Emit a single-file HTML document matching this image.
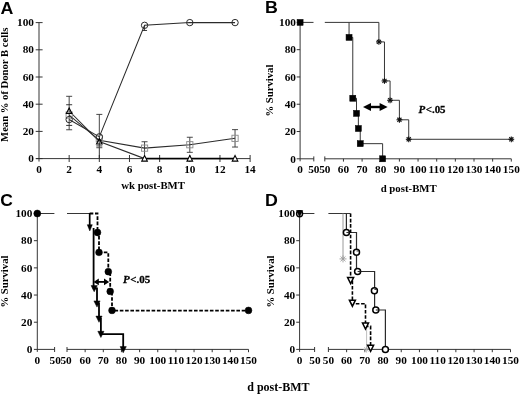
<!DOCTYPE html>
<html lang="en"><head><meta charset="utf-8"><title>Figure</title>
<style>html,body{margin:0;padding:0;background:#fff;}svg{display:block;opacity:0.999;will-change:transform;}.t{font-family:"Liberation Serif","DejaVu Serif",serif;font-weight:bold;fill:#000;}.p{font-family:"Liberation Sans","DejaVu Sans",sans-serif;font-weight:bold;fill:#000;}</style></head><body>
<svg width="520" height="394" viewBox="0 0 520 394">
<rect width="520" height="394" fill="#fff"/>
<text class="p" transform="translate(0.40 13.70) scale(1.06 1)" font-size="16.8" text-anchor="start">A</text>
<text class="p" transform="translate(265.00 13.40) scale(1.06 1)" font-size="16.8" text-anchor="start">B</text>
<text class="p" transform="translate(0.20 206.40) scale(1.04 1)" font-size="16.8" text-anchor="start">C</text>
<text class="p" transform="translate(265.00 206.40) scale(1.06 1)" font-size="16.8" text-anchor="start">D</text>
<line x1="39.00" y1="22.60" x2="39.00" y2="161.60" stroke="#2b2b2b" stroke-width="0.95" />
<line x1="36.00" y1="158.60" x2="250.12" y2="158.60" stroke="#2b2b2b" stroke-width="0.95" />
<line x1="35.70" y1="158.60" x2="42.60" y2="158.60" stroke="#2b2b2b" stroke-width="0.95" />
<text class="t" transform="translate(34.00 162.20) scale(1.13 1)" font-size="10" text-anchor="end">0</text>
<line x1="35.70" y1="131.40" x2="42.60" y2="131.40" stroke="#2b2b2b" stroke-width="0.95" />
<text class="t" transform="translate(34.00 135.00) scale(1.13 1)" font-size="10" text-anchor="end">20</text>
<line x1="35.70" y1="104.20" x2="42.60" y2="104.20" stroke="#2b2b2b" stroke-width="0.95" />
<text class="t" transform="translate(34.00 107.80) scale(1.13 1)" font-size="10" text-anchor="end">40</text>
<line x1="35.70" y1="77.00" x2="42.60" y2="77.00" stroke="#2b2b2b" stroke-width="0.95" />
<text class="t" transform="translate(34.00 80.60) scale(1.13 1)" font-size="10" text-anchor="end">60</text>
<line x1="35.70" y1="49.80" x2="42.60" y2="49.80" stroke="#2b2b2b" stroke-width="0.95" />
<text class="t" transform="translate(34.00 53.40) scale(1.13 1)" font-size="10" text-anchor="end">80</text>
<line x1="35.70" y1="22.60" x2="42.60" y2="22.60" stroke="#2b2b2b" stroke-width="0.95" />
<text class="t" transform="translate(34.00 26.20) scale(1.13 1)" font-size="10" text-anchor="end">100</text>
<text class="t" transform="translate(39.00 173.00) scale(1.13 1)" font-size="10" text-anchor="middle">0</text>
<line x1="69.16" y1="155.00" x2="69.16" y2="162.00" stroke="#2b2b2b" stroke-width="0.95" />
<text class="t" transform="translate(69.16 173.00) scale(1.13 1)" font-size="10" text-anchor="middle">2</text>
<line x1="99.32" y1="155.00" x2="99.32" y2="162.00" stroke="#2b2b2b" stroke-width="0.95" />
<text class="t" transform="translate(99.32 173.00) scale(1.13 1)" font-size="10" text-anchor="middle">4</text>
<line x1="129.48" y1="155.00" x2="129.48" y2="162.00" stroke="#2b2b2b" stroke-width="0.95" />
<text class="t" transform="translate(129.48 173.00) scale(1.13 1)" font-size="10" text-anchor="middle">6</text>
<line x1="159.64" y1="155.00" x2="159.64" y2="162.00" stroke="#2b2b2b" stroke-width="0.95" />
<text class="t" transform="translate(159.64 173.00) scale(1.13 1)" font-size="10" text-anchor="middle">8</text>
<line x1="189.80" y1="155.00" x2="189.80" y2="162.00" stroke="#2b2b2b" stroke-width="0.95" />
<text class="t" transform="translate(189.80 173.00) scale(1.13 1)" font-size="10" text-anchor="middle">10</text>
<line x1="219.96" y1="155.00" x2="219.96" y2="162.00" stroke="#2b2b2b" stroke-width="0.95" />
<text class="t" transform="translate(219.96 173.00) scale(1.13 1)" font-size="10" text-anchor="middle">12</text>
<line x1="250.12" y1="155.00" x2="250.12" y2="162.00" stroke="#2b2b2b" stroke-width="0.95" />
<text class="t" transform="translate(250.12 173.00) scale(1.13 1)" font-size="10" text-anchor="middle">14</text>
<text class="t" transform="translate(153.10 189.20) scale(1.025 1)" font-size="10.5" text-anchor="middle">wk post-BMT</text>
<text class="t" transform="translate(8.10 84.80) rotate(-90) scale(1.015 1)" font-size="10.5" text-anchor="middle">Mean % of Donor B cells</text>
<polyline points="69.16,119.57 99.32,136.84 144.56,25.32 189.80,22.60 235.04,22.60" fill="none" stroke="#2b2b2b" stroke-width="1.05" />
<polyline points="69.16,115.08 99.32,140.38 144.56,148.13 189.80,144.73 235.04,138.34" fill="none" stroke="#2b2b2b" stroke-width="1.05" />
<polyline points="69.16,111.00 99.32,141.46 144.56,158.60 189.80,158.60 235.04,158.60" fill="none" stroke="#2b2b2b" stroke-width="1.05" />
<line x1="144.56" y1="158.40" x2="235.04" y2="158.40" stroke="#000" stroke-width="1.5" />
<line x1="69.16" y1="96.31" x2="69.16" y2="129.77" stroke="#333" stroke-width="0.9" />
<line x1="66.16" y1="96.31" x2="72.16" y2="96.31" stroke="#333" stroke-width="0.9" />
<line x1="66.16" y1="129.77" x2="72.16" y2="129.77" stroke="#333" stroke-width="0.9" />
<line x1="66.16" y1="125.42" x2="72.16" y2="125.42" stroke="#2b2b2b" stroke-width="0.95" />
<line x1="66.16" y1="104.74" x2="72.16" y2="104.74" stroke="#2b2b2b" stroke-width="0.95" />
<line x1="99.32" y1="114.40" x2="99.32" y2="147.72" stroke="#333" stroke-width="0.9" />
<line x1="96.32" y1="114.40" x2="102.32" y2="114.40" stroke="#333" stroke-width="0.9" />
<line x1="96.32" y1="147.72" x2="102.32" y2="147.72" stroke="#333" stroke-width="0.9" />
<line x1="99.32" y1="147.72" x2="99.32" y2="158.60" stroke="#2b2b2b" stroke-width="0.95" />
<line x1="96.32" y1="145.95" x2="102.32" y2="145.95" stroke="#2b2b2b" stroke-width="0.95" />
<line x1="144.56" y1="141.74" x2="144.56" y2="154.79" stroke="#333" stroke-width="0.9" />
<line x1="141.56" y1="141.74" x2="147.56" y2="141.74" stroke="#333" stroke-width="0.9" />
<line x1="189.80" y1="137.25" x2="189.80" y2="152.34" stroke="#333" stroke-width="0.9" />
<line x1="186.80" y1="137.25" x2="192.80" y2="137.25" stroke="#333" stroke-width="0.9" />
<line x1="186.80" y1="152.34" x2="192.80" y2="152.34" stroke="#333" stroke-width="0.9" />
<line x1="235.04" y1="129.63" x2="235.04" y2="147.04" stroke="#333" stroke-width="0.9" />
<line x1="232.04" y1="129.63" x2="238.04" y2="129.63" stroke="#333" stroke-width="0.9" />
<line x1="232.04" y1="147.04" x2="238.04" y2="147.04" stroke="#333" stroke-width="0.9" />
<line x1="142.06" y1="30.49" x2="147.06" y2="30.49" stroke="#2b2b2b" stroke-width="0.9" />
<line x1="144.56" y1="25.32" x2="144.56" y2="30.49" stroke="#2b2b2b" stroke-width="0.9" />
<rect x="66.06" y="111.98" width="6.2" height="6.2" fill="none" stroke="#8a8a8a" stroke-width="0.9"/>
<rect x="96.22" y="135.64" width="6.2" height="6.2" fill="none" stroke="#8a8a8a" stroke-width="0.9"/>
<rect x="141.46" y="145.03" width="6.2" height="6.2" fill="none" stroke="#8a8a8a" stroke-width="0.9"/>
<rect x="186.70" y="141.63" width="6.2" height="6.2" fill="none" stroke="#8a8a8a" stroke-width="0.9"/>
<rect x="231.94" y="135.24" width="6.2" height="6.2" fill="none" stroke="#8a8a8a" stroke-width="0.9"/>
<circle cx="69.16" cy="119.57" r="3.2" fill="none" stroke="#2b2b2b" stroke-width="1"/>
<circle cx="99.32" cy="136.84" r="3.2" fill="none" stroke="#2b2b2b" stroke-width="1"/>
<circle cx="144.56" cy="25.32" r="3.2" fill="none" stroke="#2b2b2b" stroke-width="1"/>
<circle cx="189.80" cy="22.60" r="3.2" fill="none" stroke="#2b2b2b" stroke-width="1"/>
<circle cx="235.04" cy="22.60" r="3.2" fill="none" stroke="#2b2b2b" stroke-width="1"/>
<polygon points="69.16,107.92 71.96,113.52 66.36,113.52" fill="none" stroke="#000" stroke-width="1.1"/>
<polygon points="99.32,138.38 102.12,143.98 96.52,143.98" fill="none" stroke="#000" stroke-width="1.1"/>
<polygon points="144.56,155.52 147.36,161.12 141.76,161.12" fill="#fff" stroke="#000" stroke-width="1.1"/>
<polygon points="189.80,155.52 192.60,161.12 187.00,161.12" fill="#fff" stroke="#000" stroke-width="1.1"/>
<polygon points="235.04,155.52 237.84,161.12 232.24,161.12" fill="#fff" stroke="#000" stroke-width="1.1"/>
<line x1="300.10" y1="22.40" x2="300.10" y2="161.30" stroke="#2b2b2b" stroke-width="0.95" />
<line x1="296.70" y1="158.80" x2="300.10" y2="158.80" stroke="#2b2b2b" stroke-width="0.95" />
<text class="t" transform="translate(296.00 162.60) scale(1.13 1)" font-size="10" text-anchor="end">0</text>
<line x1="296.70" y1="131.52" x2="300.10" y2="131.52" stroke="#2b2b2b" stroke-width="0.95" />
<text class="t" transform="translate(296.00 135.32) scale(1.13 1)" font-size="10" text-anchor="end">20</text>
<line x1="296.70" y1="104.24" x2="300.10" y2="104.24" stroke="#2b2b2b" stroke-width="0.95" />
<text class="t" transform="translate(296.00 108.04) scale(1.13 1)" font-size="10" text-anchor="end">40</text>
<line x1="296.70" y1="76.96" x2="300.10" y2="76.96" stroke="#2b2b2b" stroke-width="0.95" />
<text class="t" transform="translate(296.00 80.76) scale(1.13 1)" font-size="10" text-anchor="end">60</text>
<line x1="296.70" y1="49.68" x2="300.10" y2="49.68" stroke="#2b2b2b" stroke-width="0.95" />
<text class="t" transform="translate(296.00 53.48) scale(1.13 1)" font-size="10" text-anchor="end">80</text>
<line x1="296.70" y1="22.40" x2="300.10" y2="22.40" stroke="#2b2b2b" stroke-width="0.95" />
<text class="t" transform="translate(296.00 26.20) scale(1.13 1)" font-size="10" text-anchor="end">100</text>
<line x1="300.10" y1="158.80" x2="313.80" y2="158.80" stroke="#2b2b2b" stroke-width="0.95" />
<line x1="313.80" y1="156.40" x2="313.80" y2="161.40" stroke="#2b2b2b" stroke-width="0.95" />
<line x1="324.80" y1="158.80" x2="511.30" y2="158.80" stroke="#2b2b2b" stroke-width="0.95" />
<line x1="324.80" y1="156.40" x2="324.80" y2="161.40" stroke="#2b2b2b" stroke-width="0.95" />
<line x1="343.45" y1="158.80" x2="343.45" y2="161.60" stroke="#2b2b2b" stroke-width="0.95" />
<line x1="362.10" y1="158.80" x2="362.10" y2="161.60" stroke="#2b2b2b" stroke-width="0.95" />
<line x1="380.75" y1="158.80" x2="380.75" y2="161.60" stroke="#2b2b2b" stroke-width="0.95" />
<line x1="399.40" y1="158.80" x2="399.40" y2="161.60" stroke="#2b2b2b" stroke-width="0.95" />
<line x1="418.05" y1="158.80" x2="418.05" y2="161.60" stroke="#2b2b2b" stroke-width="0.95" />
<line x1="436.70" y1="158.80" x2="436.70" y2="161.60" stroke="#2b2b2b" stroke-width="0.95" />
<line x1="455.35" y1="158.80" x2="455.35" y2="161.60" stroke="#2b2b2b" stroke-width="0.95" />
<line x1="474.00" y1="158.80" x2="474.00" y2="161.60" stroke="#2b2b2b" stroke-width="0.95" />
<line x1="492.65" y1="158.80" x2="492.65" y2="161.60" stroke="#2b2b2b" stroke-width="0.95" />
<line x1="511.30" y1="158.80" x2="511.30" y2="161.60" stroke="#2b2b2b" stroke-width="0.95" />
<text class="t" transform="translate(300.10 172.60) scale(1.13 1)" font-size="10" text-anchor="middle">0</text>
<text class="t" transform="translate(313.80 172.60) scale(1.13 1)" font-size="10" text-anchor="middle">50</text>
<text class="t" transform="translate(324.80 172.60) scale(1.13 1)" font-size="10" text-anchor="middle">50</text>
<text class="t" transform="translate(343.45 172.60) scale(1.13 1)" font-size="10" text-anchor="middle">60</text>
<text class="t" transform="translate(362.10 172.60) scale(1.13 1)" font-size="10" text-anchor="middle">70</text>
<text class="t" transform="translate(380.75 172.60) scale(1.13 1)" font-size="10" text-anchor="middle">80</text>
<text class="t" transform="translate(399.40 172.60) scale(1.13 1)" font-size="10" text-anchor="middle">90</text>
<text class="t" transform="translate(418.05 172.60) scale(1.13 1)" font-size="10" text-anchor="middle">100</text>
<text class="t" transform="translate(436.70 172.60) scale(1.13 1)" font-size="10" text-anchor="middle">110</text>
<text class="t" transform="translate(455.35 172.60) scale(1.13 1)" font-size="10" text-anchor="middle">120</text>
<text class="t" transform="translate(474.00 172.60) scale(1.13 1)" font-size="10" text-anchor="middle">130</text>
<text class="t" transform="translate(492.65 172.60) scale(1.13 1)" font-size="10" text-anchor="middle">140</text>
<text class="t" transform="translate(511.30 172.60) scale(1.13 1)" font-size="10" text-anchor="middle">150</text>
<text class="t" transform="translate(408.70 191.80) scale(1.03 1)" font-size="10.5" text-anchor="middle">d post-BMT</text>
<text class="t" transform="translate(273.10 90.60) rotate(-90) scale(1.02 1)" font-size="10.5" text-anchor="middle">% Survival</text>
<line x1="300.10" y1="22.40" x2="313.50" y2="22.40" stroke="#2b2b2b" stroke-width="0.95" />
<polyline points="324.80,22.40 349.05,22.40 349.05,37.40 352.78,37.40 352.78,98.24 356.50,98.24 356.50,113.38 358.37,113.38 358.37,128.52 360.24,128.52 360.24,143.66 382.62,143.66 382.62,158.80" fill="none" stroke="#2b2b2b" stroke-width="0.95" />
<polyline points="349.05,22.40 378.88,22.40 378.88,41.91 384.48,41.91 384.48,80.92 390.08,80.92 390.08,100.28 399.40,100.28 399.40,119.79 408.73,119.79 408.73,139.29 511.30,139.29" fill="none" stroke="#2b2b2b" stroke-width="0.95" />
<rect x="297.10" y="19.40" width="6" height="6" fill="#000" stroke="#000" stroke-width="0.5"/>
<rect x="346.05" y="34.40" width="6" height="6" fill="#000" stroke="#000" stroke-width="0.5"/>
<rect x="349.78" y="95.24" width="6" height="6" fill="#000" stroke="#000" stroke-width="0.5"/>
<rect x="353.50" y="110.38" width="6" height="6" fill="#000" stroke="#000" stroke-width="0.5"/>
<rect x="355.37" y="125.52" width="6" height="6" fill="#000" stroke="#000" stroke-width="0.5"/>
<rect x="357.24" y="140.66" width="6" height="6" fill="#000" stroke="#000" stroke-width="0.5"/>
<rect x="379.62" y="155.80" width="6" height="6" fill="#000" stroke="#000" stroke-width="0.5"/>
<line x1="375.99" y1="41.91" x2="381.78" y2="41.91" stroke="#111" stroke-width="1.1" />
<line x1="376.83" y1="39.85" x2="380.94" y2="43.96" stroke="#111" stroke-width="1.1" />
<line x1="378.88" y1="39.01" x2="378.88" y2="44.81" stroke="#111" stroke-width="1.1" />
<line x1="380.94" y1="39.85" x2="376.83" y2="43.96" stroke="#111" stroke-width="1.1" />
<line x1="381.58" y1="80.92" x2="387.38" y2="80.92" stroke="#111" stroke-width="1.1" />
<line x1="382.43" y1="78.86" x2="386.53" y2="82.97" stroke="#111" stroke-width="1.1" />
<line x1="384.48" y1="78.02" x2="384.48" y2="83.82" stroke="#111" stroke-width="1.1" />
<line x1="386.53" y1="78.86" x2="382.43" y2="82.97" stroke="#111" stroke-width="1.1" />
<line x1="387.18" y1="100.28" x2="392.98" y2="100.28" stroke="#111" stroke-width="1.1" />
<line x1="388.02" y1="98.23" x2="392.13" y2="102.34" stroke="#111" stroke-width="1.1" />
<line x1="390.08" y1="97.38" x2="390.08" y2="103.18" stroke="#111" stroke-width="1.1" />
<line x1="392.13" y1="98.23" x2="388.02" y2="102.34" stroke="#111" stroke-width="1.1" />
<line x1="396.50" y1="119.79" x2="402.30" y2="119.79" stroke="#111" stroke-width="1.1" />
<line x1="397.35" y1="117.74" x2="401.45" y2="121.84" stroke="#111" stroke-width="1.1" />
<line x1="399.40" y1="116.89" x2="399.40" y2="122.69" stroke="#111" stroke-width="1.1" />
<line x1="401.45" y1="117.74" x2="397.35" y2="121.84" stroke="#111" stroke-width="1.1" />
<line x1="405.83" y1="139.29" x2="411.62" y2="139.29" stroke="#111" stroke-width="1.1" />
<line x1="406.67" y1="137.24" x2="410.78" y2="141.35" stroke="#111" stroke-width="1.1" />
<line x1="408.73" y1="136.39" x2="408.73" y2="142.19" stroke="#111" stroke-width="1.1" />
<line x1="410.78" y1="137.24" x2="406.67" y2="141.35" stroke="#111" stroke-width="1.1" />
<line x1="508.40" y1="139.29" x2="514.20" y2="139.29" stroke="#111" stroke-width="1.1" />
<line x1="509.25" y1="137.24" x2="513.35" y2="141.35" stroke="#111" stroke-width="1.1" />
<line x1="511.30" y1="136.39" x2="511.30" y2="142.19" stroke="#111" stroke-width="1.1" />
<line x1="513.35" y1="137.24" x2="509.25" y2="141.35" stroke="#111" stroke-width="1.1" />
<polygon points="363.00,107.00 371.00,103.10 371.00,110.90" fill="#000"/>
<polygon points="387.60,107.00 379.60,103.10 379.60,110.90" fill="#000"/>
<line x1="370.00" y1="107.00" x2="380.60" y2="107.00" stroke="#000" stroke-width="2.4" />
<text class="t" transform="translate(418.4 112.8) scale(1.04 1)" font-size="10.5" stroke="#000" stroke-width="0.25"><tspan font-style="italic">P</tspan><tspan dx="0.6">&lt;</tspan>.05</text>
<line x1="37.30" y1="213.50" x2="37.30" y2="351.90" stroke="#2b2b2b" stroke-width="0.95" />
<line x1="33.90" y1="349.40" x2="37.30" y2="349.40" stroke="#2b2b2b" stroke-width="0.95" />
<text class="t" transform="translate(32.40 353.20) scale(1.13 1)" font-size="10" text-anchor="end">0</text>
<line x1="33.90" y1="322.22" x2="37.30" y2="322.22" stroke="#2b2b2b" stroke-width="0.95" />
<text class="t" transform="translate(32.40 326.02) scale(1.13 1)" font-size="10" text-anchor="end">20</text>
<line x1="33.90" y1="295.04" x2="37.30" y2="295.04" stroke="#2b2b2b" stroke-width="0.95" />
<text class="t" transform="translate(32.40 298.84) scale(1.13 1)" font-size="10" text-anchor="end">40</text>
<line x1="33.90" y1="267.86" x2="37.30" y2="267.86" stroke="#2b2b2b" stroke-width="0.95" />
<text class="t" transform="translate(32.40 271.66) scale(1.13 1)" font-size="10" text-anchor="end">60</text>
<line x1="33.90" y1="240.68" x2="37.30" y2="240.68" stroke="#2b2b2b" stroke-width="0.95" />
<text class="t" transform="translate(32.40 244.48) scale(1.13 1)" font-size="10" text-anchor="end">80</text>
<line x1="33.90" y1="213.50" x2="37.30" y2="213.50" stroke="#2b2b2b" stroke-width="0.95" />
<text class="t" transform="translate(32.40 217.30) scale(1.13 1)" font-size="10" text-anchor="end">100</text>
<line x1="37.30" y1="349.40" x2="54.60" y2="349.40" stroke="#2b2b2b" stroke-width="0.95" />
<line x1="54.60" y1="347.00" x2="54.60" y2="352.00" stroke="#2b2b2b" stroke-width="0.95" />
<line x1="67.00" y1="349.40" x2="248.50" y2="349.40" stroke="#2b2b2b" stroke-width="0.95" />
<line x1="67.00" y1="347.00" x2="67.00" y2="352.00" stroke="#2b2b2b" stroke-width="0.95" />
<line x1="85.15" y1="349.40" x2="85.15" y2="352.20" stroke="#2b2b2b" stroke-width="0.95" />
<line x1="103.30" y1="349.40" x2="103.30" y2="352.20" stroke="#2b2b2b" stroke-width="0.95" />
<line x1="121.45" y1="349.40" x2="121.45" y2="352.20" stroke="#2b2b2b" stroke-width="0.95" />
<line x1="139.60" y1="349.40" x2="139.60" y2="352.20" stroke="#2b2b2b" stroke-width="0.95" />
<line x1="157.75" y1="349.40" x2="157.75" y2="352.20" stroke="#2b2b2b" stroke-width="0.95" />
<line x1="175.90" y1="349.40" x2="175.90" y2="352.20" stroke="#2b2b2b" stroke-width="0.95" />
<line x1="194.05" y1="349.40" x2="194.05" y2="352.20" stroke="#2b2b2b" stroke-width="0.95" />
<line x1="212.20" y1="349.40" x2="212.20" y2="352.20" stroke="#2b2b2b" stroke-width="0.95" />
<line x1="230.35" y1="349.40" x2="230.35" y2="352.20" stroke="#2b2b2b" stroke-width="0.95" />
<line x1="248.50" y1="349.40" x2="248.50" y2="352.20" stroke="#2b2b2b" stroke-width="0.95" />
<text class="t" transform="translate(37.30 363.60) scale(1.13 1)" font-size="10" text-anchor="middle">0</text>
<text class="t" transform="translate(55.20 363.60) scale(1.13 1)" font-size="10" text-anchor="middle">50</text>
<text class="t" transform="translate(66.10 363.60) scale(1.13 1)" font-size="10" text-anchor="middle">50</text>
<text class="t" transform="translate(85.15 363.60) scale(1.13 1)" font-size="10" text-anchor="middle">60</text>
<text class="t" transform="translate(103.30 363.60) scale(1.13 1)" font-size="10" text-anchor="middle">70</text>
<text class="t" transform="translate(121.45 363.60) scale(1.13 1)" font-size="10" text-anchor="middle">80</text>
<text class="t" transform="translate(139.60 363.60) scale(1.13 1)" font-size="10" text-anchor="middle">90</text>
<text class="t" transform="translate(157.75 363.60) scale(1.13 1)" font-size="10" text-anchor="middle">100</text>
<text class="t" transform="translate(175.90 363.60) scale(1.13 1)" font-size="10" text-anchor="middle">110</text>
<text class="t" transform="translate(194.05 363.60) scale(1.13 1)" font-size="10" text-anchor="middle">120</text>
<text class="t" transform="translate(212.20 363.60) scale(1.13 1)" font-size="10" text-anchor="middle">130</text>
<text class="t" transform="translate(230.35 363.60) scale(1.13 1)" font-size="10" text-anchor="middle">140</text>
<text class="t" transform="translate(248.50 363.60) scale(1.13 1)" font-size="10" text-anchor="middle">150</text>
<text class="t" transform="translate(7.50 281.50) rotate(-90) scale(1.02 1)" font-size="10.5" text-anchor="middle">% Survival</text>
<line x1="37.30" y1="213.50" x2="54.40" y2="213.50" stroke="#2b2b2b" stroke-width="0.95" />
<line x1="67.00" y1="213.50" x2="89.70" y2="213.50" stroke="#2b2b2b" stroke-width="0.95" />
<polyline points="89.70,213.00 89.70,227.50" fill="none" stroke="#000" stroke-width="1.7" />
<polyline points="93.60,228.00 93.60,288.40 97.00,288.40 97.00,303.70 99.00,303.70 99.00,318.90 100.90,318.90 100.90,334.10 123.20,334.10 123.20,349.40" fill="none" stroke="#000" stroke-width="1.8" />
<polyline points="89.70,213.50 97.50,213.50 97.50,232.50 99.00,232.50 99.00,252.40 108.30,252.40 108.30,271.70 110.20,271.70 110.20,291.40 112.00,291.40 112.00,310.60 248.50,310.60" fill="none" stroke="#000" stroke-width="1.8" stroke-dasharray="3.6 1.7"/>
<circle cx="37.30" cy="213.50" r="3.5" fill="#000" stroke="#000" stroke-width="0.5"/>
<circle cx="97.50" cy="232.50" r="3.4" fill="#000" stroke="#000" stroke-width="0.5"/>
<circle cx="99.00" cy="252.40" r="3.4" fill="#000" stroke="#000" stroke-width="0.5"/>
<circle cx="108.30" cy="271.70" r="3.4" fill="#000" stroke="#000" stroke-width="0.5"/>
<circle cx="110.20" cy="291.40" r="3.4" fill="#000" stroke="#000" stroke-width="0.5"/>
<circle cx="112.00" cy="310.40" r="3.4" fill="#000" stroke="#000" stroke-width="0.5"/>
<circle cx="248.50" cy="310.40" r="3.4" fill="#000" stroke="#000" stroke-width="0.5"/>
<polygon points="87.30,224.71 92.30,224.71 89.80,230.91" fill="#000" stroke="#000" stroke-width="0.5"/>
<polygon points="91.10,285.61 97.30,285.61 94.20,291.81" fill="#000" stroke="#000" stroke-width="0.5"/>
<polygon points="93.90,300.91 100.10,300.91 97.00,307.11" fill="#000" stroke="#000" stroke-width="0.5"/>
<polygon points="95.90,316.11 102.10,316.11 99.00,322.31" fill="#000" stroke="#000" stroke-width="0.5"/>
<polygon points="97.80,331.31 104.00,331.31 100.90,337.51" fill="#000" stroke="#000" stroke-width="0.5"/>
<polygon points="120.10,346.61 126.30,346.61 123.20,352.81" fill="#000" stroke="#000" stroke-width="0.5"/>
<polygon points="93.60,281.90 98.80,278.50 98.80,285.30" fill="#000"/>
<polygon points="109.20,281.90 104.00,278.50 104.00,285.30" fill="#000"/>
<line x1="97.80" y1="281.90" x2="105.00" y2="281.90" stroke="#000" stroke-width="1.8" />
<text class="t" transform="translate(122.9 282.8) scale(1.05 1)" font-size="10.5" stroke="#000" stroke-width="0.25"><tspan font-style="italic">P</tspan><tspan dx="0.6">&lt;</tspan>.05</text>
<line x1="299.60" y1="213.50" x2="299.60" y2="351.90" stroke="#2b2b2b" stroke-width="0.95" />
<line x1="296.20" y1="349.40" x2="299.60" y2="349.40" stroke="#2b2b2b" stroke-width="0.95" />
<text class="t" transform="translate(295.20 353.20) scale(1.13 1)" font-size="10" text-anchor="end">0</text>
<line x1="296.20" y1="322.22" x2="299.60" y2="322.22" stroke="#2b2b2b" stroke-width="0.95" />
<text class="t" transform="translate(295.20 326.02) scale(1.13 1)" font-size="10" text-anchor="end">20</text>
<line x1="296.20" y1="295.04" x2="299.60" y2="295.04" stroke="#2b2b2b" stroke-width="0.95" />
<text class="t" transform="translate(295.20 298.84) scale(1.13 1)" font-size="10" text-anchor="end">40</text>
<line x1="296.20" y1="267.86" x2="299.60" y2="267.86" stroke="#2b2b2b" stroke-width="0.95" />
<text class="t" transform="translate(295.20 271.66) scale(1.13 1)" font-size="10" text-anchor="end">60</text>
<line x1="296.20" y1="240.68" x2="299.60" y2="240.68" stroke="#2b2b2b" stroke-width="0.95" />
<text class="t" transform="translate(295.20 244.48) scale(1.13 1)" font-size="10" text-anchor="end">80</text>
<line x1="296.20" y1="213.50" x2="299.60" y2="213.50" stroke="#2b2b2b" stroke-width="0.95" />
<text class="t" transform="translate(295.20 217.30) scale(1.13 1)" font-size="10" text-anchor="end">100</text>
<line x1="299.60" y1="349.40" x2="314.60" y2="349.40" stroke="#2b2b2b" stroke-width="0.95" />
<line x1="314.60" y1="347.00" x2="314.60" y2="352.00" stroke="#2b2b2b" stroke-width="0.95" />
<line x1="328.40" y1="349.40" x2="510.50" y2="349.40" stroke="#2b2b2b" stroke-width="0.95" />
<line x1="328.40" y1="347.00" x2="328.40" y2="352.00" stroke="#2b2b2b" stroke-width="0.95" />
<line x1="346.61" y1="349.40" x2="346.61" y2="352.20" stroke="#2b2b2b" stroke-width="0.95" />
<line x1="364.82" y1="349.40" x2="364.82" y2="352.20" stroke="#2b2b2b" stroke-width="0.95" />
<line x1="383.03" y1="349.40" x2="383.03" y2="352.20" stroke="#2b2b2b" stroke-width="0.95" />
<line x1="401.24" y1="349.40" x2="401.24" y2="352.20" stroke="#2b2b2b" stroke-width="0.95" />
<line x1="419.45" y1="349.40" x2="419.45" y2="352.20" stroke="#2b2b2b" stroke-width="0.95" />
<line x1="437.66" y1="349.40" x2="437.66" y2="352.20" stroke="#2b2b2b" stroke-width="0.95" />
<line x1="455.87" y1="349.40" x2="455.87" y2="352.20" stroke="#2b2b2b" stroke-width="0.95" />
<line x1="474.08" y1="349.40" x2="474.08" y2="352.20" stroke="#2b2b2b" stroke-width="0.95" />
<line x1="492.29" y1="349.40" x2="492.29" y2="352.20" stroke="#2b2b2b" stroke-width="0.95" />
<line x1="510.50" y1="349.40" x2="510.50" y2="352.20" stroke="#2b2b2b" stroke-width="0.95" />
<text class="t" transform="translate(299.60 363.60) scale(1.13 1)" font-size="10" text-anchor="middle">0</text>
<text class="t" transform="translate(315.00 363.60) scale(1.13 1)" font-size="10" text-anchor="middle">50</text>
<text class="t" transform="translate(328.40 363.60) scale(1.13 1)" font-size="10" text-anchor="middle">50</text>
<text class="t" transform="translate(346.61 363.60) scale(1.13 1)" font-size="10" text-anchor="middle">60</text>
<text class="t" transform="translate(364.82 363.60) scale(1.13 1)" font-size="10" text-anchor="middle">70</text>
<text class="t" transform="translate(383.03 363.60) scale(1.13 1)" font-size="10" text-anchor="middle">80</text>
<text class="t" transform="translate(401.24 363.60) scale(1.13 1)" font-size="10" text-anchor="middle">90</text>
<text class="t" transform="translate(419.45 363.60) scale(1.13 1)" font-size="10" text-anchor="middle">100</text>
<text class="t" transform="translate(437.66 363.60) scale(1.13 1)" font-size="10" text-anchor="middle">110</text>
<text class="t" transform="translate(455.87 363.60) scale(1.13 1)" font-size="10" text-anchor="middle">120</text>
<text class="t" transform="translate(474.08 363.60) scale(1.13 1)" font-size="10" text-anchor="middle">130</text>
<text class="t" transform="translate(492.29 363.60) scale(1.13 1)" font-size="10" text-anchor="middle">140</text>
<text class="t" transform="translate(510.50 363.60) scale(1.13 1)" font-size="10" text-anchor="middle">150</text>
<text class="t" transform="translate(273.50 281.50) rotate(-90) scale(1.02 1)" font-size="10.5" text-anchor="middle">% Survival</text>
<line x1="299.60" y1="213.50" x2="314.40" y2="213.50" stroke="#2b2b2b" stroke-width="0.95" />
<line x1="328.40" y1="213.50" x2="350.50" y2="213.50" stroke="#2b2b2b" stroke-width="0.95" />
<polyline points="343.00,213.50 343.00,258.90" fill="none" stroke="#9a9a9a" stroke-width="1" />
<line x1="339.50" y1="258.90" x2="346.50" y2="258.90" stroke="#9a9a9a" stroke-width="0.9" />
<line x1="340.53" y1="256.43" x2="345.47" y2="261.37" stroke="#9a9a9a" stroke-width="0.9" />
<line x1="343.00" y1="255.40" x2="343.00" y2="262.40" stroke="#9a9a9a" stroke-width="0.9" />
<line x1="345.47" y1="256.43" x2="340.53" y2="261.37" stroke="#9a9a9a" stroke-width="0.9" />
<polyline points="366.60,326.00 366.60,349.40" fill="none" stroke="#b8b8b8" stroke-width="0.9" />
<line x1="363.40" y1="349.40" x2="369.80" y2="349.40" stroke="#b0b0b0" stroke-width="0.8" />
<line x1="364.34" y1="347.14" x2="368.86" y2="351.66" stroke="#b0b0b0" stroke-width="0.8" />
<line x1="366.60" y1="346.20" x2="366.60" y2="352.60" stroke="#b0b0b0" stroke-width="0.8" />
<line x1="368.86" y1="347.14" x2="364.34" y2="351.66" stroke="#b0b0b0" stroke-width="0.8" />
<polyline points="346.40,213.50 346.40,232.50 356.50,232.50 356.50,271.50 374.60,271.50 374.60,310.00 385.40,310.00 385.40,349.40" fill="none" stroke="#2b2b2b" stroke-width="1.2" />
<polyline points="350.60,213.50 350.60,280.20 352.40,280.20 352.40,303.70 365.50,303.70 365.50,326.40 370.60,326.40 370.60,349.40" fill="none" stroke="#000" stroke-width="1.6" stroke-dasharray="3.6 1.7"/>
<circle cx="346.40" cy="232.50" r="3.0" fill="#fff" stroke="#000" stroke-width="1.5"/>
<circle cx="356.50" cy="252.20" r="3.0" fill="#fff" stroke="#000" stroke-width="1.5"/>
<circle cx="357.60" cy="271.50" r="3.0" fill="#fff" stroke="#000" stroke-width="1.5"/>
<circle cx="374.40" cy="290.70" r="3.0" fill="#fff" stroke="#000" stroke-width="1.5"/>
<circle cx="375.80" cy="310.00" r="3.0" fill="#fff" stroke="#000" stroke-width="1.5"/>
<circle cx="385.40" cy="349.40" r="3.0" fill="#fff" stroke="#000" stroke-width="1.5"/>
<line x1="346.40" y1="232.50" x2="349.40" y2="232.50" stroke="#2b2b2b" stroke-width="1.1" />
<line x1="357.60" y1="271.50" x2="360.60" y2="271.50" stroke="#2b2b2b" stroke-width="1.1" />
<line x1="375.80" y1="310.00" x2="378.80" y2="310.00" stroke="#2b2b2b" stroke-width="1.1" />
<line x1="356.50" y1="251.00" x2="358.50" y2="251.00" stroke="#2b2b2b" stroke-width="0.9" />
<line x1="374.40" y1="289.50" x2="376.40" y2="289.50" stroke="#2b2b2b" stroke-width="0.9" />
<polygon points="347.60,277.50 353.60,277.50 350.60,283.50" fill="#fff" stroke="#000" stroke-width="1.5"/>
<polygon points="349.40,300.20 355.40,300.20 352.40,306.20" fill="#fff" stroke="#000" stroke-width="1.5"/>
<polygon points="362.50,323.10 368.50,323.10 365.50,329.10" fill="#fff" stroke="#000" stroke-width="1.5"/>
<polygon points="367.60,345.30 373.60,345.30 370.60,351.30" fill="#fff" stroke="#000" stroke-width="1.5"/>
<circle cx="299.60" cy="213.70" r="3.0" fill="#fff" stroke="#000" stroke-width="1.4"/>
<polygon points="296.50,210.51 302.70,210.51 299.60,216.71" fill="#000" stroke="#000" stroke-width="0.6"/>
<text class="t" transform="translate(278.40 390.80)" font-size="12" text-anchor="middle">d post-BMT</text>
</svg></body></html>
